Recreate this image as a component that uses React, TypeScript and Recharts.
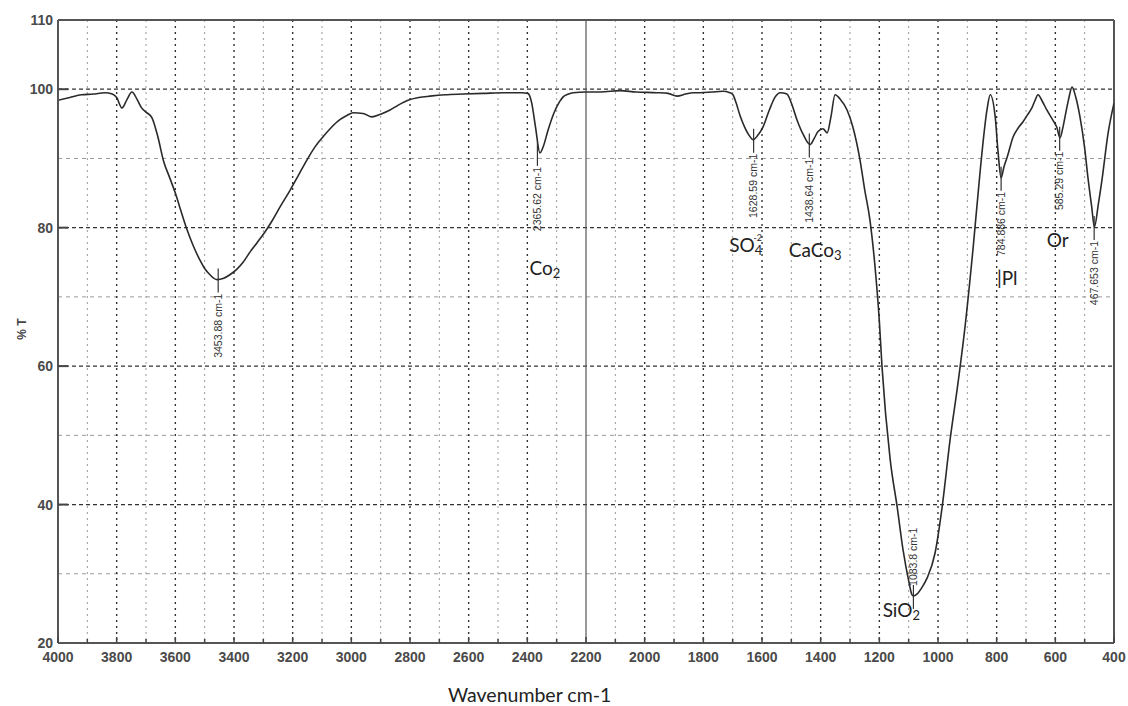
import React from 'react';
import {
  ComposedChart, Line, Scatter, XAxis, YAxis, CartesianGrid, ReferenceLine
} from 'recharts';

// FTIR spectrum (wavenumber cm-1 -> %T)
const wavenumbers = [
  4000, 3960, 3920, 3880, 3840, 3815, 3800, 3782, 3765, 3748, 3730, 3715, 3700, 3680, 3660,
  3640, 3620, 3600, 3580, 3560, 3540, 3516, 3500, 3482, 3458, 3435, 3414, 3390, 3369, 3345,
  3320, 3294, 3270, 3243, 3209, 3180, 3151, 3125, 3097, 3070, 3039, 3015, 2994, 2960, 2930,
  2900, 2868, 2840, 2807, 2770, 2732, 2680, 2619, 2550, 2480, 2420, 2398, 2385, 2372, 2357,
  2345, 2330, 2310, 2290, 2278, 2260, 2244, 2200, 2150, 2084, 2030, 1960, 1920, 1890, 1860,
  1835, 1811, 1770, 1733, 1710, 1699, 1688, 1675, 1660, 1645, 1630, 1615, 1596, 1575, 1555,
  1538, 1515, 1500, 1481, 1460, 1436, 1422, 1409, 1392, 1378, 1365, 1351, 1334, 1310, 1290,
  1266, 1250, 1232, 1215, 1200, 1191, 1163, 1139, 1119, 1100, 1089, 1084, 1071, 1055, 1037,
  1010, 986, 959, 932, 907, 880, 856, 833, 822, 805, 795, 785, 775, 764, 744,
  725, 710, 695, 680, 670, 659, 645, 629, 608, 595, 584, 575, 567, 555, 543,
  530, 516, 500, 489, 476, 467, 453, 441, 420, 400
];
const transmittance = [
  98.4, 98.8, 99.2, 99.3, 99.5, 99.3, 98.8, 97.3, 98.5, 99.6, 98.5, 97.3, 96.7, 95.9, 93.2,
  89.6, 87.3, 85.0, 82.3, 79.7, 77.5, 75.3, 74.1, 73.2, 72.5, 72.7, 73.2, 74.0, 75.0, 76.5,
  77.9, 79.4, 81.0, 83.0, 85.4, 87.6, 89.8, 91.6, 93.1, 94.4, 95.6, 96.2, 96.6, 96.5, 96.0,
  96.4, 97.0, 97.7, 98.4, 98.8, 99.0, 99.2, 99.3, 99.4, 99.5, 99.5, 99.4, 98.0, 94.5, 90.8,
  91.8, 94.0, 96.5, 98.2, 98.9, 99.3, 99.5, 99.6, 99.6, 99.8, 99.6, 99.5, 99.4, 99.0, 99.3,
  99.5, 99.5, 99.6, 99.7, 99.5, 99.2, 98.0, 96.2, 94.6, 93.4, 92.7, 93.3, 94.6, 97.0, 98.9,
  99.5, 99.3, 98.0, 95.6, 93.5, 92.0, 92.9, 93.9, 94.3, 93.7, 96.0, 99.2, 98.6, 97.0, 94.5,
  89.8, 85.5, 81.1, 74.5, 66.5, 60.0, 46.5, 39.6, 33.4, 29.0, 27.0, 26.8, 27.1, 28.0, 29.4,
  33.0, 39.6, 49.3, 57.5, 66.0, 77.2, 88.3, 97.0, 99.2, 96.0, 90.8, 87.2, 88.8, 90.2, 93.1,
  94.5, 95.3, 96.3, 97.3, 98.3, 99.2, 98.3, 97.0, 95.5, 94.5, 93.0, 94.3, 96.0, 98.5, 100.3,
  98.8, 96.0, 91.5, 87.3, 83.0, 80.1, 83.5, 86.9, 93.7, 98.0
];

// peak picks
const peakPositions = [3453.88, 2365.62, 1628.59, 1438.64, 1083.8, 784.886, 585.29, 467.653];
const peakValues = [72.5, 90.8, 92.7, 92.0, 26.8, 87.2, 93.0, 80.1];

// assignments written on the plot
const speciesMain = ['Co', 'SO', 'CaCo', 'SiO', '|Pl', 'Or'];
const speciesSub = ['2', '4', '3', '2', '', ''];
const speciesSup = ['', '-2', '', '', '', ''];
const speciesX = [2340, 1655, 1419, 1125, 764, 592];
const speciesY = [74.2, 77.5, 76.8, 24.8, 72.7, 78.2];

const xTicks = [4000, 3900, 3800, 3700, 3600, 3500, 3400, 3300, 3200, 3100, 3000, 2900, 2800, 2700, 2600, 2500, 2400, 2300, 2200, 2100, 2000, 1900, 1800, 1700, 1600, 1500, 1400, 1300, 1200, 1100, 1000, 900, 800, 700, 600, 500, 400];
const xMajorGrid = [3800, 3600, 3400, 3200, 3000, 2800, 2600, 2400, 2000, 1800, 1600, 1400, 1200, 1000, 800, 600];
const xMinorGrid = [3900, 3700, 3500, 3300, 3100, 2900, 2700, 2500, 2300, 2100, 1900, 1700, 1500, 1300, 1100, 900, 700, 500];
const yTicks = [20, 40, 60, 80, 100, 110];
const yMajorGrid = [40, 60, 80, 100];
const yMinorGrid = [30, 50, 70, 90];

const spectrum = wavenumbers.map((w, i) => ({ w, t: transmittance[i] }));
const peaks = peakPositions.map((w, i) => ({ w, t: peakValues[i], label: `${w} cm-1` }));
const species = speciesMain.map((m, i) => ({
  w: speciesX[i], t: speciesY[i], main: m, sub: speciesSub[i], sup: speciesSup[i]
}));

const tickFont = { fontFamily: 'Liberation Sans, Arial, sans-serif', fontSize: 14, fontWeight: 'bold', fill: '#4a4a4a' };
const labelFont = 'Lato, "Open Sans", sans-serif';

const XTick = (props) => {
  const { x, y, payload } = props;
  const v = payload.value;
  const axisY = y - 8;
  const major = v % 200 === 0;
  return (
    <g>
      <line x1={x} x2={x} y1={axisY} y2={axisY - (major ? 6 : 4)} stroke="#444" strokeWidth={1.5} />
      {major && <text x={x} y={axisY + 19} textAnchor="middle" {...tickFont}>{v}</text>}
    </g>
  );
};

const YTick = (props) => {
  const { x, y, payload } = props;
  const v = payload.value;
  const axisX = x + 8;
  return (
    <g>
      {v > 20 && v < 110 && <line x1={axisX} x2={axisX + 10} y1={y} y2={y} stroke="#444" strokeWidth={2} />}
      <text x={axisX - 5} y={y + 5} textAnchor="end" {...tickFont}>{v}</text>
    </g>
  );
};

const PeakMark = (props) => {
  const { cx, cy, payload } = props;
  const above = payload.t < 40;
  const tx = cx + 3.5;
  const ty = above ? cy - 10 : cy + 14;
  return (
    <g>
      <line x1={cx} x2={cx} y1={cy - 11} y2={cy + 13} stroke="#333" strokeWidth={1.2} />
      <text
        x={tx}
        y={ty}
        transform={`rotate(-90 ${tx} ${ty})`}
        textAnchor={above ? 'start' : 'end'}
        fontFamily="Liberation Sans, Arial, sans-serif"
        fontSize={10.5}
        fill="#333"
      >
        {payload.label}
      </text>
    </g>
  );
};

const SpeciesLabel = (props) => {
  const { cx, cy, payload } = props;
  return (
    <text x={cx} y={cy + 7} textAnchor="middle" fontFamily={labelFont} fontSize={19} fill="#222">
      {payload.main}
      {payload.sub && <tspan fontSize={13} dy={3}>{payload.sub}</tspan>}
      {payload.sup && <tspan fontSize={9} dx={-9} dy={-14}>{payload.sup}</tspan>}
    </text>
  );
};

export default function App() {
  return (
    <div style={{ position: 'absolute', left: 0, top: 0, width: 1128, height: 706, background: '#fff' }}>
      <ComposedChart width={1128} height={706} margin={{ top: 20, right: 14, bottom: 33, left: 8 }}>
        <CartesianGrid horizontal={false} verticalValues={xMinorGrid} stroke="#9a9a9a" strokeDasharray="2 4" />
        <CartesianGrid vertical={false} horizontalValues={yMinorGrid} stroke="#9a9a9a" strokeDasharray="4 4" />
        <CartesianGrid horizontal={false} verticalValues={xMajorGrid} stroke="#333" strokeWidth={1.4} strokeDasharray="2 4" />
        <CartesianGrid vertical={false} horizontalValues={yMajorGrid} stroke="#333" strokeWidth={1.2} strokeDasharray="4 3" />
        <XAxis
          type="number"
          dataKey="w"
          domain={[400, 4000]}
          reversed
          ticks={xTicks}
          interval={0}
          tick={<XTick />}
          tickLine={false}
          axisLine={{ stroke: '#555', strokeWidth: 2 }}
          height={30}
          allowDataOverflow
        />
        <YAxis
          type="number"
          dataKey="t"
          domain={[20, 110]}
          ticks={yTicks}
          interval={0}
          tick={<YTick />}
          tickLine={false}
          axisLine={{ stroke: '#555', strokeWidth: 2 }}
          width={50}
          allowDataOverflow
        />
        <ReferenceLine x={2200} stroke="#555" strokeWidth={1.2} />
        <ReferenceLine y={110} stroke="#555" strokeWidth={2} />
        <ReferenceLine x={400} stroke="#555" strokeWidth={2} />
        <Line
          data={spectrum}
          dataKey="t"
          type="monotone"
          stroke="#2a2a2a"
          strokeWidth={1.6}
          dot={false}
          activeDot={false}
          isAnimationActive={false}
        />
        <Scatter data={peaks} dataKey="t" shape={<PeakMark />} isAnimationActive={false} />
        <Scatter data={species} dataKey="t" shape={<SpeciesLabel />} isAnimationActive={false} />
      </ComposedChart>
      <div style={{ position: 'absolute', left: 11, top: 322, transform: 'rotate(-90deg)', fontFamily: 'Liberation Sans, Arial, sans-serif', fontWeight: 'bold', fontSize: 12, color: '#444', whiteSpace: 'nowrap' }}>
        % T
      </div>
      <div style={{ position: 'absolute', left: 448, top: 683, fontFamily: labelFont, fontSize: 19.5, color: '#222', whiteSpace: 'nowrap' }}>
        Wavenumber cm-1
      </div>
    </div>
  );
}
